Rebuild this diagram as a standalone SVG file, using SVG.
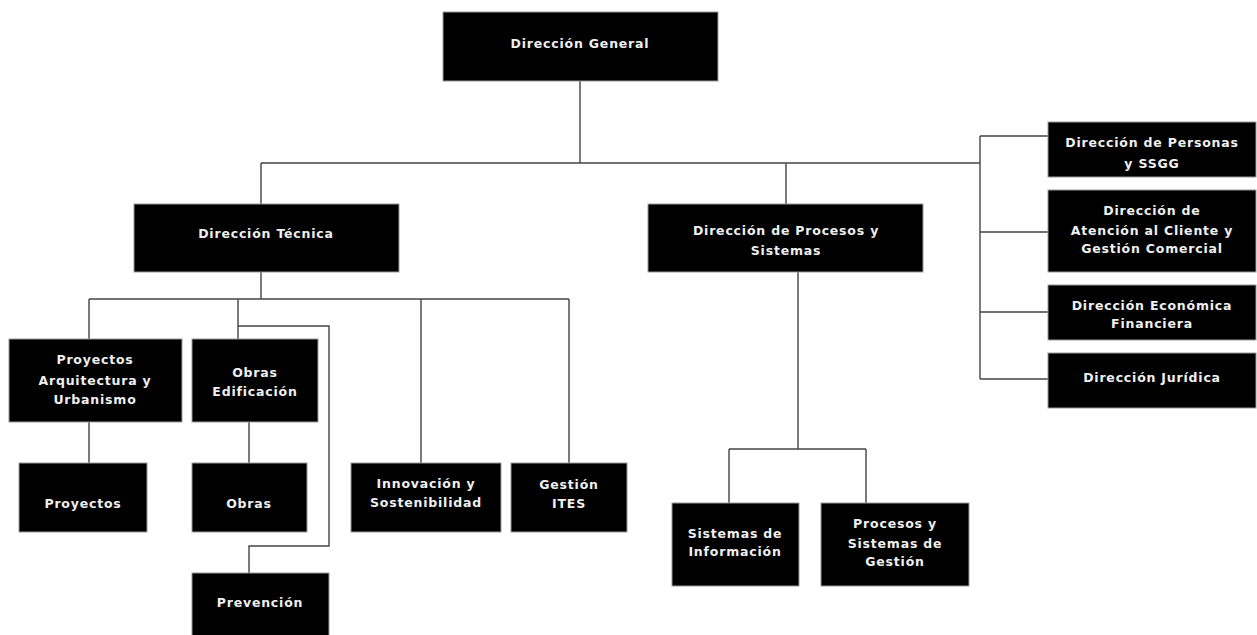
<svg xmlns="http://www.w3.org/2000/svg" width="1257" height="635" viewBox="0 0 1257 635">
<style>
.b{fill:#000;stroke:#9a9a9a;stroke-width:1}
.t{font-family:"DejaVu Sans","Verdana",sans-serif;font-size:12.5px;font-weight:bold;fill:#efefef;text-anchor:middle;letter-spacing:0.8px}
.c{fill:none;stroke:#444;stroke-width:1.4}
</style>
<rect width="1257" height="635" fill="#fff"/>
<g id="connectors" class="c">
<path d="M580 81V163M261 163H980M261 163V204M786 163V204"/>
<path d="M980 136V379M980 136H1048M980 232H1048M980 312H1048M980 379H1048"/>
<path d="M261 272V299M89 299H569M89 299V339M238 299V339M421 299V463M569 299V463"/>
<path d="M238 326H329V546H249V573"/>
<path d="M89 422V463M249 422V463"/>
<path d="M798 272V449M729 449H866M729 449V503M866 449V503"/>
</g>
<g id="direccion-general"><rect class="b" x="443" y="12" width="275" height="69"/><text class="t" x="580" y="48">Dirección General</text></g>
<g id="direccion-tecnica"><rect class="b" x="134" y="204" width="265" height="68"/><text class="t" x="266" y="238">Dirección Técnica</text></g>
<g id="direccion-procesos"><rect class="b" x="648" y="204" width="275" height="68"/><text class="t" x="786" y="235">Dirección de Procesos y</text><text class="t" x="786" y="255">Sistemas</text></g>
<g id="proyectos-arquitectura"><rect class="b" x="9" y="339" width="173" height="83"/><text class="t" x="95" y="364">Proyectos</text><text class="t" x="95" y="385">Arquitectura y</text><text class="t" x="95" y="404">Urbanismo</text></g>
<g id="obras-edificacion"><rect class="b" x="192" y="339" width="126" height="83"/><text class="t" x="255" y="377">Obras</text><text class="t" x="255" y="396">Edificación</text></g>
<g id="proyectos"><rect class="b" x="19" y="463" width="128" height="69"/><text class="t" x="83" y="508">Proyectos</text></g>
<g id="obras"><rect class="b" x="192" y="463" width="115" height="69"/><text class="t" x="249" y="508">Obras</text></g>
<g id="prevencion"><rect class="b" x="192" y="573" width="137" height="63"/><text class="t" x="260" y="607">Prevención</text></g>
<g id="innovacion"><rect class="b" x="351" y="463" width="150" height="69"/><text class="t" x="426" y="488">Innovación y</text><text class="t" x="426" y="507">Sostenibilidad</text></g>
<g id="gestion-ites"><rect class="b" x="511" y="463" width="116" height="69"/><text class="t" x="569" y="489">Gestión</text><text class="t" x="569" y="508">ITES</text></g>
<g id="sistemas-informacion"><rect class="b" x="672" y="503" width="127" height="83"/><text class="t" x="735" y="538">Sistemas de</text><text class="t" x="735" y="556">Información</text></g>
<g id="procesos-sistemas-gestion"><rect class="b" x="821" y="503" width="148" height="83"/><text class="t" x="895" y="528">Procesos y</text><text class="t" x="895" y="548">Sistemas de</text><text class="t" x="895" y="566">Gestión</text></g>
<g id="direccion-personas"><rect class="b" x="1048" y="122" width="208" height="55"/><text class="t" x="1152" y="147">Dirección de Personas</text><text class="t" x="1152" y="168">y SSGG</text></g>
<g id="direccion-atencion"><rect class="b" x="1048" y="190" width="208" height="82"/><text class="t" x="1152" y="215">Dirección de</text><text class="t" x="1152" y="235">Atención al Cliente y</text><text class="t" x="1152" y="253">Gestión Comercial</text></g>
<g id="direccion-economica"><rect class="b" x="1048" y="285" width="208" height="55"/><text class="t" x="1152" y="310">Dirección Económica</text><text class="t" x="1152" y="328">Financiera</text></g>
<g id="direccion-juridica"><rect class="b" x="1048" y="353" width="208" height="55"/><text class="t" x="1152" y="382">Dirección Jurídica</text></g>
</svg>
